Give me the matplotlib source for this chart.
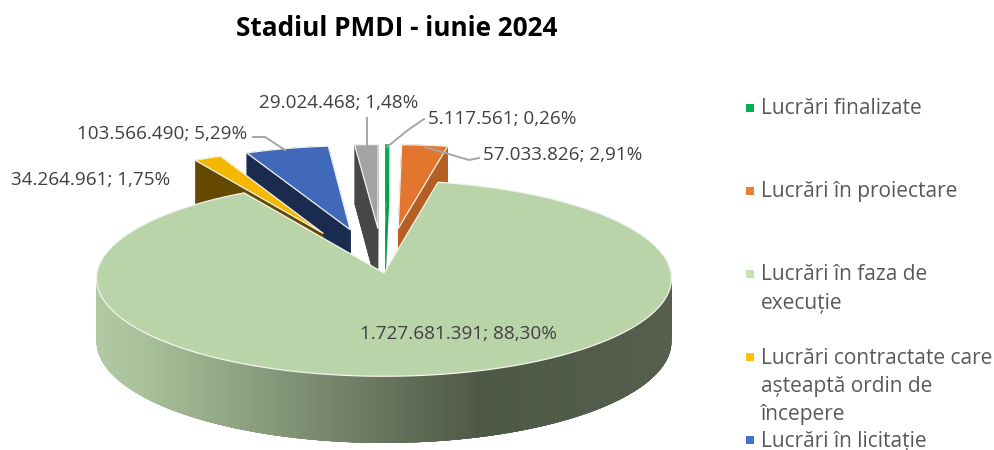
import numpy as np
import matplotlib
matplotlib.use("Agg")
import matplotlib.pyplot as plt
from matplotlib.colors import to_rgb

plt.rcParams['font.family'] = ['Open Sans', 'DejaVu Sans']

# ---- data (clockwise from the top, as in the source chart)
categories = ["Lucrări finalizate", "Lucrări în proiectare", "Lucrări în faza de\nexecuție",
              "Lucrări contractate care\nașteaptă ordin de\nîncepere",
              "Lucrări în licitație", "Altele"]
values = [5117561, 57033826, 1727681391, 34264961, 103566490, 29024468]
title = "Stadiul PMDI - iunie 2024"

# ---- style
top_colors = ['#00B050', '#E2762F', '#BAD4A9', '#F5B800', '#4169BA', '#A5A2A2']
side_colors = ['#00A04A', '#B55F25', '#4E5846', '#654900', '#1A2B50', '#484646']
edge_widths = [0.0, 0.9, 0.9, 0.9, 0.9, 0.9]
legend_colors = ['#00B050', '#ED7D31', '#C5E0B4', '#FFC000', '#4472C4']
legend_y = [108, 191, 274, 357, 440]
explode = [0.47, 0.47, 0.0, 0.47, 0.47, 0.47]
radius = [0.95, 0.95, 1.0, 0.95, 0.95, 0.95]
draw_order = [5, 0, 1, 4, 3, 2]

CX, CY, R, SQUASH, PERSP, DEPTH = 384.0, 273.0, 287.0, 0.34, 0.055, 63.0


def project(u, v, z=0.0):
    d = 1 + PERSP * np.asarray(v)
    return CX + R * np.asarray(u) / d, CY - R * SQUASH * np.asarray(v) / d + DEPTH * z / d


def fmt_label(val, total):
    return f"{val:,}".replace(",", ".") + "; " + f"{100 * val / total:.2f}".replace(".", ",") + "%"


fig = plt.figure(figsize=(9.95, 4.5), dpi=100)
ax = fig.add_axes([0, 0, 1, 1])
ax.set_xlim(0, 995)
ax.set_ylim(450, 0)
ax.axis('off')

total = sum(values)
edges = np.concatenate([[0], np.cumsum(values)]) / total * 2 * np.pi

grad_x = [96, 140, 480, 670]
grad_c = np.array([to_rgb(c) for c in ['#B2C9A4', '#A9C29A', '#4E5846', '#555F4C']])


def grad(x):
    return [np.interp(x, grad_x, grad_c[:, i]) for i in range(3)]


for i in draw_order:
    a0, a1 = edges[i], edges[i + 1]
    mid = (a0 + a1) / 2
    ou, ov = explode[i] * np.sin(mid), explode[i] * np.cos(mid)
    th = np.linspace(a0, a1, 700 if i == 2 else 30)
    u = ou + radius[i] * np.sin(th)
    v = ov + radius[i] * np.cos(th)
    xt, yt = project(u, v)
    xb, yb = project(u, v, 1.0)
    ax_, ay_ = project(ou, ov)
    bx_, by_ = project(ou, ov, 1.0)
    if i == 2:
        # lit cylinder wall of the large slice: overlapping solid strips hide the seams
        for j in range(len(th) - 6):
            if np.cos(th[j]) > 0.15:
                continue
            k = j + 5
            col = grad((xt[j] + xt[j + 1]) / 2)
            ax.fill([xt[j], xt[k], xb[k], xb[j]], [yt[j], yt[k], yb[k], yb[j]],
                    color=col, lw=0, zorder=2)
    else:
        px = np.concatenate([[ax_], xt, xb[::-1], [bx_]])
        py = np.concatenate([[ay_], yt, yb[::-1], [by_]])
        ax.fill(px, py, color=side_colors[i], lw=0.3 if edge_widths[i] else 0, zorder=2)
        for q in (0, -1):
            ax.fill([ax_, xt[q], xb[q], bx_], [ay_, yt[q], yb[q], by_], color=side_colors[i],
                    lw=0.3 if edge_widths[i] else 0, zorder=2)
    ax.fill(np.concatenate([[ax_], xt]), np.concatenate([[ay_], yt]), facecolor=top_colors[i],
            edgecolor='#F4F4EE', lw=edge_widths[i], joinstyle='round', zorder=2)

# ---- leader lines
lead = '#A6A6A6'
for xs, ys in [([367, 367], [118, 147]),
               ([387, 408, 424], [147, 130, 119]),
               ([425, 469, 479], [147, 160, 158]),
               ([253, 265, 285], [137, 137, 150])]:
    ax.plot(xs, ys, color=lead, lw=1.4, zorder=3)

# ---- data labels
label_fs = 13.6
lab = '#404040'
label_pos = [(428, 119), (483, 155), (360, 334), (11, 180), (77, 134), (259, 103)]
for i, (x, y) in enumerate(label_pos):
    ax.text(x, y, fmt_label(values[i], total), fontsize=label_fs, color=lab, ha='left', va='center', zorder=4)

# ---- legend
for c, y, name in zip(legend_colors, legend_y, categories):
    ax.scatter([749.5], [y], marker='s', s=28, color=c, linewidths=0, zorder=4)
    ax.text(761, y - 9.5, name, fontsize=15, color='#595959', ha='left', va='top',
            linespacing=1.46, zorder=4)

ax.text(397, 28, title, fontsize=18.8, fontweight='bold', color='black', ha='center', va='center')

fig.savefig('out.png', dpi=100, facecolor='white')
